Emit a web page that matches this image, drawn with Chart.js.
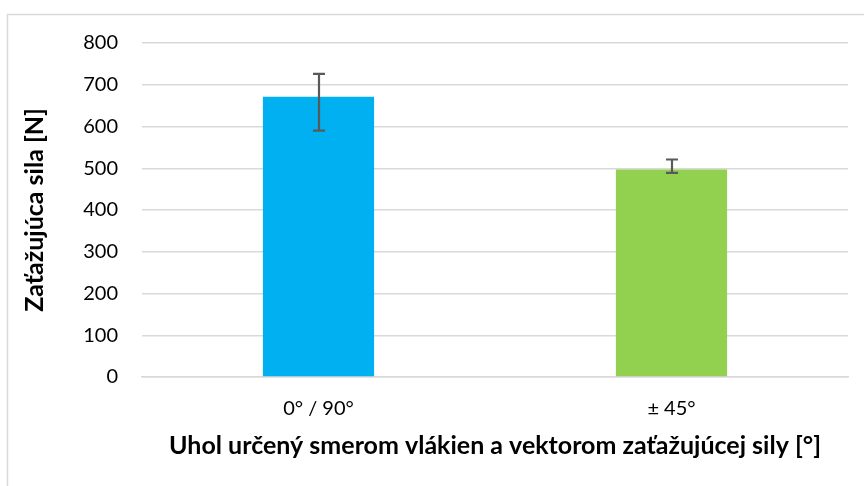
<!DOCTYPE html>
<html>
<head>
<meta charset="utf-8">
<script src="https://cdn.jsdelivr.net/npm/chart.js@4"></script>
<style>
  html, body { margin: 0; padding: 0; background: #fff; }
  #wrap { width: 864px; height: 486px; }
</style>
</head>
<body>
<div id="wrap"><canvas id="forceChart"></canvas></div>
<script>
// fibre orientation groups and measured loading force [N]
const categories = ["0° / 90°", "± 45°"];
const meanForce = [671, 497];
const errHigh = [726, 521];
const errLow = [590, 489];
const barColors = ["#00b0f0", "#92d050"];
const yTicks = [0, 100, 200, 300, 400, 500, 600, 700, 800];

const fontFamily = "Lato, 'Open Sans', sans-serif";

// whiskers drawn on top of each bar
const errorBars = {
    id: "errorBars",
    afterDatasetsDraw(chart) {
        const ctx = chart.ctx;
        const yScale = chart.scales.y;
        const meta = chart.getDatasetMeta(0);
        ctx.save();
        ctx.strokeStyle = "#595959";
        ctx.lineWidth = 2.2;
        meta.data.forEach((bar, i) => {
            const x = Math.round(bar.x);
            const yTop = yScale.getPixelForValue(errHigh[i]);
            const yBot = yScale.getPixelForValue(errLow[i]);
            ctx.beginPath();
            ctx.moveTo(x, yTop);
            ctx.lineTo(x, yBot);
            ctx.moveTo(x - 6, yTop);
            ctx.lineTo(x + 6, yTop);
            ctx.moveTo(x - 6, yBot);
            ctx.lineTo(x + 6, yBot);
            ctx.stroke();
        });
        ctx.restore();
    },
};

// thin frame around the chart object
const frame = {
    id: "frame",
    beforeDraw(chart) {
        const ctx = chart.ctx;
        ctx.save();
        ctx.strokeStyle = "#d9d9d9";
        ctx.lineWidth = 1.5;
        ctx.beginPath();
        ctx.moveTo(7.5, 486);
        ctx.lineTo(7.5, 14.5);
        ctx.lineTo(864, 14.5);
        ctx.stroke();
        ctx.restore();
    },
};

const ctx = document.getElementById("forceChart").getContext("2d");
new Chart(ctx, {
    type: "bar",
    data: {
        labels: categories,
        datasets: [
            {
                data: meanForce,
                backgroundColor: barColors,
                borderWidth: 0,
                categoryPercentage: 1,
                barPercentage: 0.315,
            },
        ],
    },
    options: {
        responsive: true,
        maintainAspectRatio: false,
        animation: false,
        layout: {
            padding: { top: 43, right: 16, bottom: 20, left: 20 },
        },
        plugins: {
            legend: { display: false },
            tooltip: { enabled: false },
        },
        scales: {
            x: {
                grid: { display: false, drawTicks: false },
                border: { color: "#d9d9d9", width: 1.5 },
                ticks: {
                    color: "#000",
                    padding: 20,
                    font: { family: fontFamily, size: 20 },
                },
                title: {
                    display: true,
                    text: "Uhol určený smerom vlákien a vektorom zaťažujúcej sily [°]",
                    color: "#000",
                    font: { family: fontFamily, size: 25, weight: "bold" },
                    padding: { top: 0, bottom: 5 },
                },
                afterFit(scale) {
                    scale.height = 89;
                },
            },
            y: {
                min: 0,
                max: 800,
                afterBuildTicks(scale) {
                    scale.ticks = yTicks.map((v) => ({ value: v }));
                },
                grid: { color: "#d9d9d9", lineWidth: 1.5, drawTicks: false },
                border: { display: false },
                ticks: {
                    color: "#000",
                    padding: 24,
                    font: { family: fontFamily, size: 20 },
                },
                title: {
                    display: true,
                    text: "Zaťažujúca sila [N]",
                    color: "#000",
                    font: { family: fontFamily, size: 25, weight: "bold" },
                    padding: { top: 0, bottom: 0 },
                },
                afterFit(scale) {
                    scale.width = 122;
                },
            },
        },
    },
    plugins: [frame, errorBars],
});
</script>
</body>
</html>
